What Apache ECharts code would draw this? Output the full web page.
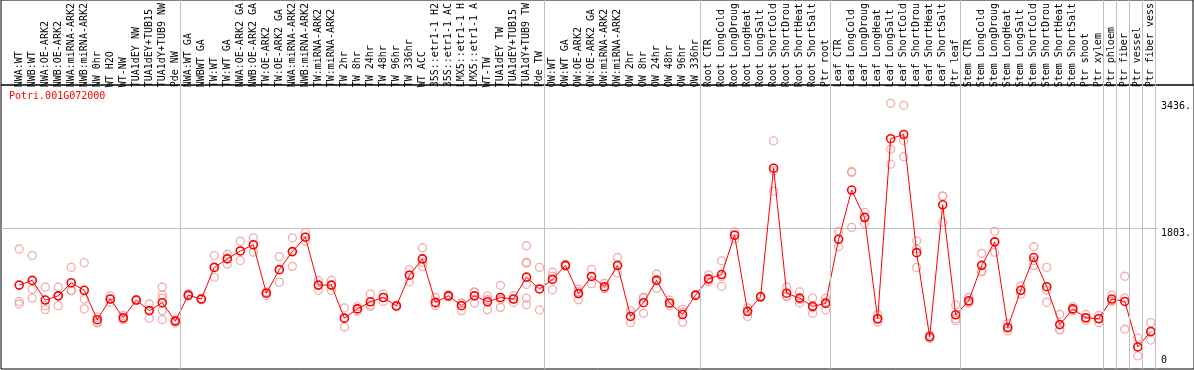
<!DOCTYPE html>
<html><head><meta charset="utf-8">
<script src="https://cdn.jsdelivr.net/npm/echarts@6/dist/echarts.min.js"></script>
<style>html,body{margin:0;padding:0;background:#fff}#c{width:1194px;height:370px}</style>
</head><body><div id="c"></div>
<script>
const geneId = 'Potri.001G072000';
const categories = [
 'NWA:WT','NWB:WT','NWA:OE-ARK2','NWB:OE-ARK2','NWA:miRNA-ARK2','NWB:miRNA-ARK2','NW 0hr','WT H2O','WT-NW','TUA1dEY NW','TUA1dEY+TUB15','TUA1dY+TUB9 NW','Pde NW',
 'NWA:WT GA','NWBWT GA','TW:WT','TW:WT GA','NWA:OE-ARK2 GA','NWB:OE-ARK2 GA','TW:OE-ARK2','TW:OE-ARK2 GA','NWA:miRNA-ARK2','NWB:miRNA-ARK2','TW:miRNA-ARK2','TW:miRNA-ARK2','TW 2hr','TW 8hr','TW 24hr','TW 48hr','TW 96hr','TW 336hr','WT ACC','35S::etr1-1 H2','35S::etr1-1 AC','LMX5::etr1-1 H','LMX5::etr1-1 A','WT-TW','TUA1dEY TW','TUA1dEY+TUB15','TUA1dY+TUB9 TW','Pde TW',
 'OW:WT','OW:WT GA','OW:OE-ARK2','OW:OE-ARK2 GA','OW:miRNA-ARK2','OW:miRNA-ARK2','OW 2hr','OW 8hr','OW 24hr','OW 48hr','OW 96hr','OW 336hr',
 'Root CTR','Root LongCold','Root LongDroug','Root LongHeat','Root LongSalt','Root ShortCold','Root ShortDrou','Root ShortHeat','Root ShortSalt','Ptr root',
 'Leaf CTR','Leaf LongCold','Leaf LongDroug','Leaf LongHeat','Leaf LongSalt','Leaf ShortCold','Leaf ShortDrou','Leaf ShortHeat','Leaf ShortSalt','Ptr leaf',
 'Stem CTR','Stem LongCold','Stem LongDroug','Stem LongHeat','Stem LongSalt','Stem ShortCold','Stem ShortDrou','Stem ShortHeat','Stem ShortSalt','Ptr shoot','Ptr xylem',
 'Ptr phloem','Ptr fiber','Ptr vessel','Ptr fiber vess'
];
const meanValues = [
 1094,1154,901,955,1124,1027,648,914,673,901,765,867,630,
 964,914,1322,1432,1534,1613,989,1293,1525,1711,1094,1094,668,787,879,934,825,1221,1432,871,955,829,955,879,934,914,1196,1044,
 1167,1348,984,1205,1073,1348,690,867,1154,863,715,964,
 1174,1230,1736,753,943,2600,989,926,820,858,
 1685,2318,1964,660,2980,3034,1512,428,2128,711,
 892,1348,1651,547,1027,1449,1073,585,787,673,660,
 914,883,297,496
];
const replicateValues = [
 [1559,883,850],[1474,1040,926],[1069,829,778],[1069,829,955],[1322,1027,1019],[1382,914,787],[681,617,605],[955,871,914],[702,648,660],[910,895,898],[850,668,765],[1069,968,926,765,648],[645,630,605],
 [984,955,955],[914,905,922],[1474,1196,1322],[1491,1364,1440],[1660,1411,1534],[1702,1516,1613],[1006,960,1000],[1461,1132,1293],[1702,1335,1525],[1769,1660,1711],[1154,1027,1094],[1154,1027,1094],[800,554,668],[816,757,787],[977,820,841],[977,883,934],[825,815,835],[1293,1136,1221],[1575,1389,1331],[934,829,854],[968,943,955],[858,765,863],[1006,863,1000],[955,778,905],[1091,807,905],[955,871,914],[1601,1389,1377,1103,926,841],[1322,774,1044],
 [1259,1035,1208],[1360,1335,1348],[1040,905,1010],[1297,1111,1205],[1116,1048,1057],[1449,1250,1344],[765,610,690],[934,731,934],[1237,1053,1170],[901,829,858],[782,617,744],[968,955,968],
 [1225,1136,1162],[1407,1078,1205],[1778,1685,1744],[800,690,769],[943,950,936],[2951,2566,2305],[1069,943,955],[1006,863,908],[926,731,803],[926,774,876],
 [1787,1588,1680],[2558,2546,1837],[2031,1883,1976],[715,617,648],[3436,2844,2651],[3410,2958,2748],[1664,1559,1322],[449,407,428],[2242,1904,2237],[838,660,635],
 [934,863,879],[1503,1263,1275],[1787,1516,1651],[597,504,538],[1082,977,1022],[1588,1348,1411],[1322,871,1027],[715,521,516],[816,765,778],[715,639,664],[702,610,668],
 [964,892,883],[1208,926,525],[411,183,297],[610,386,496]
];
const groupSizes = [13,28,12,10,10,11,1,1,1,1];
const yTickValues = [0,1803,3436];
const yTickLabels = ['0','1803.','3436.'];

const FONT = 'DejaVu Sans Mono';
const PLOT_LEFT = 12.7, PLOT_W = 1144.6, PLOT_TOP = 99, PLOT_H = 271.5;
const n = categories.length;
const bounds = [0];
groupSizes.forEach(s => bounds.push(bounds[bounds.length - 1] + s));
const repPoints = [];
replicateValues.forEach((arr, i) => arr.forEach(v => repPoints.push([i, v])));
const LINE_SHIFT = 2 / (PLOT_W / n);
const labelStyles = ['b', 'm', 't'];

const chart = echarts.init(document.getElementById('c'), null, {renderer: 'canvas'});
const hiddenAxis = (g) => ({gridIndex: g, type: 'value', min: 0, max: 1, show: false});
chart.setOption({
  animation: false,
  backgroundColor: '#fff',
  title: {text: geneId, left: 9, top: 91, padding: 0,
    textStyle: {color: '#ff0000', fontSize: 10, fontFamily: FONT, fontWeight: 'normal'}},
  grid: [
    {left: PLOT_LEFT, width: PLOT_W, top: PLOT_TOP, height: PLOT_H},
    {left: PLOT_LEFT, width: PLOT_W, top: 0, bottom: 1},
    {left: 1, right: 34, top: PLOT_TOP, height: PLOT_H},
    {left: 1, right: -3, top: 85, bottom: 1, show: true, borderColor: '#000', borderWidth: 1, backgroundColor: 'transparent'},
    {left: 1, right: 1, top: 0, height: 85, show: true, borderColor: '#000', borderWidth: 1, backgroundColor: 'transparent'}
  ],
  xAxis: [
    {gridIndex: 0, type: 'category', data: categories, position: 'top', boundaryGap: true,
      axisLine: {show: false}, axisTick: {show: false}, splitLine: {show: false},
      axisLabel: {interval: 0, rotate: 90, margin: 16, fontFamily: FONT, fontSize: 10, color: '#000'}},
    {gridIndex: 1, type: 'value', min: LINE_SHIFT, max: n + LINE_SHIFT, show: false},
    hiddenAxis(2), hiddenAxis(3), hiddenAxis(4)
  ],
  yAxis: [
    {gridIndex: 0, type: 'value', min: yTickValues[0], max: yTickValues[2], show: false},
    hiddenAxis(1),
    {gridIndex: 2, type: 'value', min: yTickValues[0], max: yTickValues[2], interval: yTickValues[1],
      position: 'right', axisLine: {show: false}, axisTick: {show: false},
      splitLine: {show: true, lineStyle: {color: ['rgba(0,0,0,0)', '#c0c0c0', 'rgba(0,0,0,0)'], width: 1}},
      axisLabel: {margin: 3, fontFamily: FONT, fontSize: 10, color: '#000',
        formatter: v => {
          const k = yTickValues.indexOf(v);
          return k < 0 ? '' : '{' + labelStyles[k] + '|' + yTickLabels[k] + '}';
        },
        rich: {
          t: {fontFamily: FONT, fontSize: 10, color: '#000', padding: [15, 0, 0, 0]},
          m: {fontFamily: FONT, fontSize: 10, color: '#000', padding: [11, 0, 0, 0]},
          b: {fontFamily: FONT, fontSize: 10, color: '#000', padding: [0, 0, 20, 0]}
        }}},
    hiddenAxis(3), hiddenAxis(4)
  ],
  series: [
    {type: 'line', xAxisIndex: 1, yAxisIndex: 1, data: [], silent: true, z: 1,
      markLine: {silent: true, symbol: ['none', 'none'], label: {show: false}, animation: false,
        lineStyle: {color: '#c0c0c0', width: 1, type: 'solid'},
        emphasis: {disabled: true},
        data: bounds.map(b => ({xAxis: b}))}},
    {type: 'scatter', xAxisIndex: 0, yAxisIndex: 0, data: repPoints, symbol: 'circle', symbolSize: 8, z: 2,
      itemStyle: {color: 'rgba(0,0,0,0)', borderColor: '#ee9999', borderWidth: 1.3}},
    {type: 'line', xAxisIndex: 0, yAxisIndex: 0, data: meanValues, symbol: 'circle', symbolSize: 8, z: 3,
      showAllSymbol: true,
      lineStyle: {color: '#ff0000', width: 1},
      itemStyle: {color: 'rgba(0,0,0,0)', borderColor: '#ff0000', borderWidth: 1.6}}
  ]
});
</script></body></html>
